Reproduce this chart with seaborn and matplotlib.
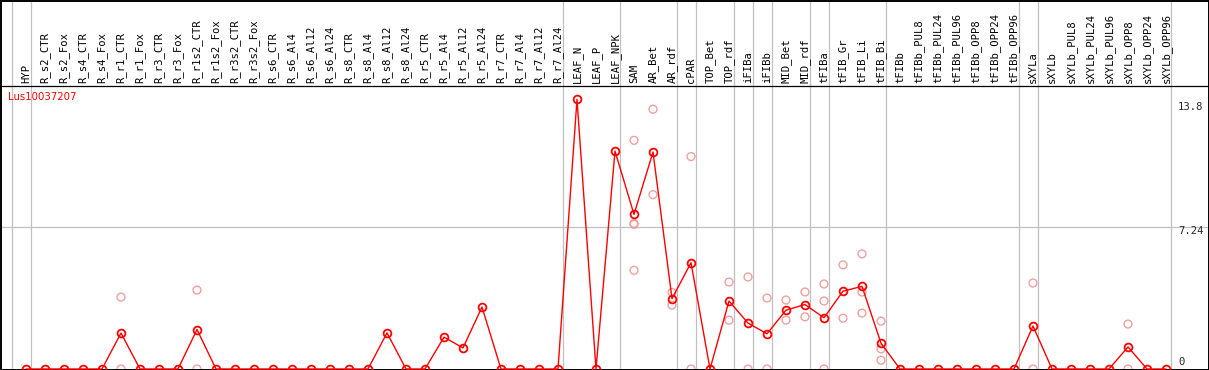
import pandas as pd
import matplotlib
matplotlib.use("Agg")
import matplotlib.pyplot as plt
import seaborn as sns

gene = "Lus10037207"

samples = [
    "HYP",
    "R_s2_CTR", "R_s2_Fox", "R_s4_CTR", "R_s4_Fox",
    "R_r1_CTR", "R_r1_Fox", "R_r3_CTR", "R_r3_Fox",
    "R_r1s2_CTR", "R_r1s2_Fox", "R_r3s2_CTR", "R_r3s2_Fox",
    "R_s6_CTR", "R_s6_Al4", "R_s6_Al12", "R_s6_Al24",
    "R_s8_CTR", "R_s8_Al4", "R_s8_Al12", "R_s8_Al24",
    "R_r5_CTR", "R_r5_Al4", "R_r5_Al12", "R_r5_Al24",
    "R_r7_CTR", "R_r7_Al4", "R_r7_Al12", "R_r7_Al24",
    "LEAF_N", "LEAF_P", "LEAF_NPK", "SAM", "AR_Bet", "AR_rdf", "cPAR",
    "TOP_Bet", "TOP_rdf", "iFIBa", "iFIBb", "MID_Bet", "MID_rdf",
    "tFIBa", "tFIB_Gr", "tFIB_Li", "tFIB_Bi", "tFIBb",
    "tFIBb_PUL8", "tFIBb_PUL24", "tFIBb_PUL96",
    "tFIBb_OPP8", "tFIBb_OPP24", "tFIBb_OPP96",
    "sXYLa", "sXYLb",
    "sXYLb_PUL8", "sXYLb_PUL24", "sXYLb_PUL96",
    "sXYLb_OPP8", "sXYLb_OPP24", "sXYLb_OPP96",
]

mean_expr = [
    0,
    0, 0, 0, 0,
    1.84, 0, 0, 0,
    2.02, 0, 0, 0,
    0, 0, 0, 0,
    0, 0, 1.85, 0,
    0, 1.63, 1.08, 3.17,
    0, 0, 0, 0,
    13.8, 0, 11.15, 7.91, 11.1, 3.6, 5.44,
    0, 3.48, 2.35, 1.8, 3.01, 3.3,
    2.62, 3.98, 4.23, 1.32, 0,
    0, 0, 0,
    0, 0, 0,
    2.2, 0,
    0, 0, 0,
    1.13, 0, 0,
]

# individual replicates (only where they differ from the mean)
rep_samples = [
    "R_r1_CTR", "R_r1_CTR",
    "R_r1s2_CTR", "R_r1s2_CTR",
    "SAM", "SAM", "SAM", "SAM",
    "AR_Bet", "AR_Bet",
    "AR_rdf", "AR_rdf",
    "cPAR", "cPAR",
    "TOP_rdf", "TOP_rdf",
    "iFIBa", "iFIBa",
    "iFIBb", "iFIBb",
    "MID_Bet", "MID_Bet",
    "MID_rdf", "MID_rdf",
    "tFIBa", "tFIBa", "tFIBa",
    "tFIB_Gr", "tFIB_Gr",
    "tFIB_Li", "tFIB_Li", "tFIB_Li",
    "tFIB_Bi", "tFIB_Bi", "tFIB_Bi",
    "sXYLa", "sXYLa",
    "sXYLb_OPP8", "sXYLb_OPP8",
]
rep_expr = [
    3.68, 0,
    4.04, 0,
    11.7, 7.45, 7.4, 5.05,
    13.29, 8.92,
    3.92, 3.27,
    10.87, 0,
    4.45, 2.5,
    4.71, 0,
    3.63, 0,
    3.53, 2.5,
    3.94, 2.67,
    4.35, 3.48, 0,
    5.33, 2.6,
    5.89, 3.94, 2.86,
    2.45, 1.03, 0.45,
    4.4, 0,
    2.3, 0,
]

# group separators: after these samples ("" = before the first one)
separators = ["", "HYP", "R_r7_Al24", "LEAF_NPK", "AR_rdf", "cPAR", "TOP_rdf",
              "iFIBa", "iFIBb", "MID_rdf", "tFIBa", "tFIB_Bi", "tFIBb_OPP96",
              "sXYLa", "sXYLb_OPP96"]

y_max = 14.48
y_mid = 7.24
max_label = "13.8"

pos = {s: i for i, s in enumerate(samples)}
df_mean = pd.DataFrame({"pos": range(len(samples)), "expr": mean_expr})
df_rep = pd.DataFrame({"pos": [pos[s] for s in rep_samples], "expr": rep_expr})

sns.set_style("white")
plt.rcParams["font.family"] = ["DejaVu Sans Mono", "DejaVu Sans"]

W, H = 1209, 370
fig = plt.figure(figsize=(W / 100, H / 100), dpi=100)
ax = fig.add_axes([0.5 / W, 0.5 / H, 1208 / W, 369 / H])

# pixel layout: x = 26 + 19*i ; value 0 at y=369, y_max at y=86
step, x0 = 19, 26
scale = (369 - 86) / y_max
ax.set_xlim((0.5 - x0) / step, (1208.5 - x0) / step)
ax.set_ylim(-0.5 / scale, 368.5 / scale)

grey = "#c0c0c0"
pink = "#f0a0a0"
for s in separators:
    xs = pos[s] + 0.24 if s else -1 + 0.24
    ax.axvline(xs, color=grey, lw=0.9, zorder=1)
ax.axhline(y_mid, color=grey, lw=0.9, zorder=1)
ax.axhline(y_max, color="black", lw=0.9, zorder=4)

sns.scatterplot(data=df_rep, x="pos", y="expr", ax=ax, marker="o", s=32,
                facecolor="none", edgecolor=pink, linewidth=1.0, zorder=2)
sns.lineplot(data=df_mean, x="pos", y="expr", ax=ax, color="red", lw=1.0,
             marker="o", markersize=5.6, markerfacecolor="none",
             markeredgecolor="red", markeredgewidth=1.3, zorder=3)

for i, s in enumerate(samples):
    ax.text(i, y_max + 3 / scale, s, rotation=90, ha="center", va="bottom",
            fontsize=7.6, color="black")

ax.text((8 - x0) / step, y_max - 11 / scale, gene, color="red",
        family="DejaVu Sans", fontsize=7.3, ha="left", va="center")

lx = (1178 - x0) / step
ax.text(lx, (369 - 107.5) / scale, max_label, fontsize=7.6, ha="left", va="center")
ax.text(lx, y_mid - 4 / scale, f"{y_mid:g}", fontsize=7.6, ha="left", va="center")
ax.text(lx, 7 / scale, "0", fontsize=7.6, ha="left", va="center")

ax.set_xticks([])
ax.set_yticks([])
ax.set_xlabel("")
ax.set_ylabel("")
for sp in ax.spines.values():
    sp.set_color("black")
    sp.set_linewidth(1.4)

fig.savefig("out.png", dpi=100)
